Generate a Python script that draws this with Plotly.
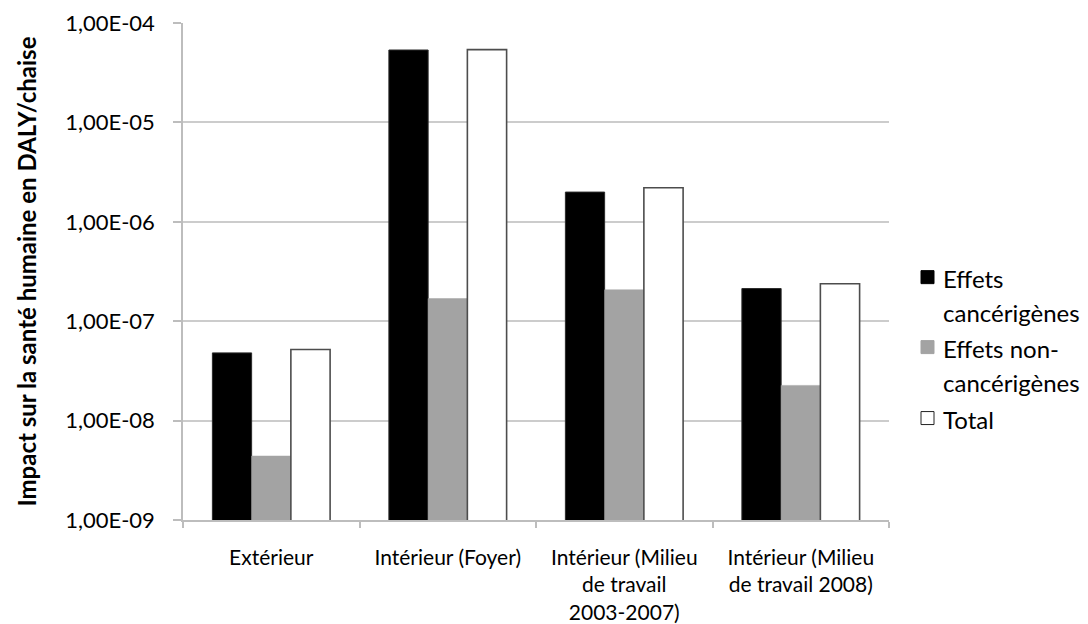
import plotly.graph_objects as go

# Health impact per chair, by exposure setting (DALY / chaise)
categories = [
    "Extérieur",
    "Intérieur (Foyer)",
    "Intérieur (Milieu<br>de travail<br>2003-2007)",
    "Intérieur (Milieu<br>de travail 2008)",
]
effets_cancerigenes = [4.8e-8, 5.35e-5, 1.99e-6, 2.13e-7]
effets_non_cancerigenes = [4.4e-9, 1.69e-7, 2.07e-7, 2.26e-8]
total = [5.2e-8, 5.4e-5, 2.2e-6, 2.38e-7]

series_names = ["Effets cancérigènes", "Effets non-cancérigènes", "Total"]
legend_lines = [["Effets", "cancérigènes"], ["Effets non-", "cancérigènes"], ["Total"]]
tick_values = [1e-9, 1e-8, 1e-7, 1e-6, 1e-5, 1e-4]
tick_labels = ["1,00E-09", "1,00E-08", "1,00E-07", "1,00E-06", "1,00E-05", "1,00E-04"]

FONT = "Lato"
W, H = 1088, 624
L, R, T, B = 183, 889, 22.7, 520

fills = ["#000000", "#a3a3a3", "#ffffff"]
edges = ["#2a2a2a", "#a3a3a3", "#4d4d4d"]
edge_w = [1, 0.5, 1.6]

fig = go.Figure()
for name, vals, fc, ec, ew in zip(series_names,
                                  [effets_cancerigenes, effets_non_cancerigenes, total],
                                  fills, edges, edge_w):
    fig.add_trace(go.Bar(
        x=categories, y=vals, name=name,
        marker=dict(color=fc, line=dict(color=ec, width=ew)),
        showlegend=False,
    ))


def px_x(px):
    return (px - L) / (R - L)


def px_y(py):
    return (B - py) / (B - T)


# Legend drawn beside the plot: swatch + wrapped label lines
shapes = []
annotations = []
line_y = [[278, 312], [348, 382], [419]]
for fc, ec, lines, ys in zip(fills, ["#000000", "#a3a3a3", "#222222"], legend_lines, line_y):
    cy = ys[0] - 1
    shapes.append(dict(
        type="rect", xref="paper", yref="paper",
        x0=px_x(921), x1=px_x(934), y0=px_y(cy + 6.5), y1=px_y(cy - 6.5),
        fillcolor=fc, line=dict(color=ec, width=1),
    ))
    for txt, y in zip(lines, ys):
        annotations.append(dict(
            text=txt, xref="paper", yref="paper",
            x=px_x(941), y=px_y(y), xanchor="left", yanchor="middle",
            showarrow=False, font=dict(family=FONT, size=24, color="#000000"),
        ))

fig.update_layout(
    width=W, height=H,
    margin=dict(l=L, r=W - R, t=T, b=H - B, autoexpand=False),
    paper_bgcolor="#ffffff", plot_bgcolor="#ffffff",
    barmode="group", bargap=0.333, bargroupgap=0,
    font=dict(family=FONT, color="#000000"),
    shapes=shapes, annotations=annotations,
    showlegend=False,
)
fig.update_xaxes(
    type="category",
    showline=True, linecolor="#bdbdbd", linewidth=1.5,
    ticks="outside", tickson="boundaries", ticklen=6, tickcolor="#bdbdbd", tickwidth=1.5,
    tickfont=dict(family=FONT, size=21, color="#000000"),
    ticklabelstandoff=18,
    showgrid=False, automargin=False,
)
fig.update_yaxes(
    type="log", range=[-9, -4],
    tickvals=tick_values, ticktext=tick_labels,
    showline=True, linecolor="#bdbdbd", linewidth=1.5,
    ticks="outside", ticklen=8, tickcolor="#bdbdbd", tickwidth=1.5,
    showgrid=True, gridcolor="#cccccc", gridwidth=1.5,
    tickfont=dict(family=FONT, size=22, color="#000000"),
    ticklabelstandoff=14,
    title=dict(text="<b>Impact sur la santé humaine en DALY/chaise</b>",
               font=dict(family=FONT, size=24, color="#000000"), standoff=22),
    automargin=False,
)

fig.write_html("out.html")
